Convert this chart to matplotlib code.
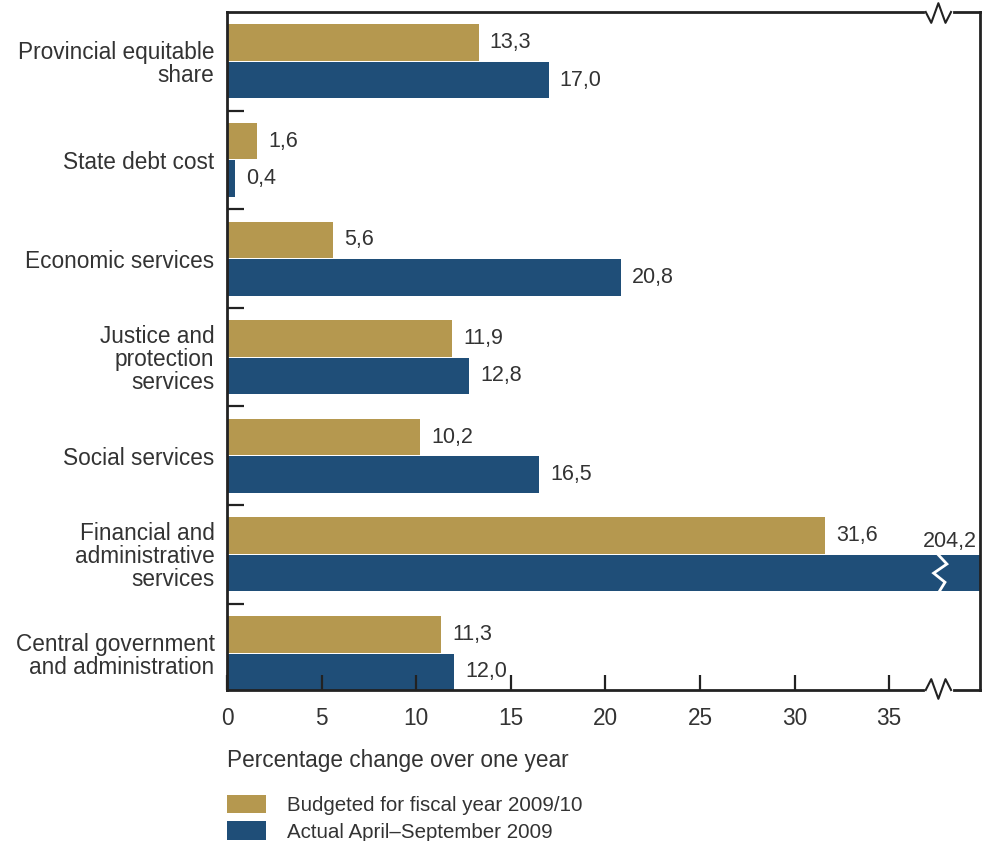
import numpy as np
import matplotlib
matplotlib.use("Agg")
import matplotlib.pyplot as plt

plt.rcParams['font.family'] = ['Liberation Sans', 'DejaVu Sans']

# données
categories = [
    "Provincial equitable\nshare",
    "State debt cost",
    "Economic services",
    "Justice and\nprotection\nservices",
    "Social services",
    "Financial and\nadministrative\nservices",
    "Central government\nand administration",
]
budgeted = [13.3, 1.6, 5.6, 11.9, 10.2, 31.6, 11.3]
actual = [17.0, 0.4, 20.8, 12.8, 16.5, 204.2, 12.0]
legend_labels = ["Budgeted for fiscal year 2009/10", "Actual April\u2013September 2009"]

GOLD = "#B5984F"
BLUE = "#1F4E78"
TXT = "#333333"
XMAX = 39.8
XBREAK = 37.6

fig = plt.figure(figsize=(9.87, 8.41), dpi=100)
ax = fig.add_axes([227/987, 1 - 690/841, (980-227)/987, (690-12)/841])

y = np.arange(len(categories))
h = 0.37
off = 0.19

def fmt(v):
    return f"{v:.1f}".replace(".", ",")

b1 = ax.barh(y - off, budgeted, height=h, color=GOLD, label=legend_labels[0])
b2 = ax.barh(y + off, [min(v, XMAX) for v in actual], height=h, color=BLUE, label=legend_labels[1])

for yi, v in zip(y, budgeted):
    ax.annotate(fmt(v), (v, yi - off), xytext=(8, 0), textcoords="offset points",
                va="center", ha="left", fontsize=15.5, color=TXT)
for yi, v in zip(y, actual):
    if v > XMAX:
        ax.annotate(fmt(v), (XMAX, yi + off - h/2), xytext=(-2, 2), textcoords="offset points",
                    va="bottom", ha="right", fontsize=15.5, color=TXT)
        # zigzag blanc sur la barre coupée
        yy = yi + off + np.array([-0.5, -0.25, 0.0, 0.25, 0.5]) * h
        xx = XBREAK + np.array([0.0, 0.45, -0.25, 0.35, 0.05])
        ax.plot(xx, yy, color="white", lw=2, zorder=5, solid_joinstyle="miter")
    else:
        ax.annotate(fmt(v), (v, yi + off), xytext=(8, 0), textcoords="offset points",
                    va="center", ha="left", fontsize=15.5, color=TXT)

ax.set_xlim(0, XMAX)
ax.set_ylim(len(categories) - 1 + off + h/2, -0.5)

ax.set_xticks(range(0, 40, 5))
ax.set_yticks(y)
ax.set_yticklabels(categories, fontsize=16.3, color=TXT, linespacing=1.0)
ax.set_yticks(np.arange(0.5, len(categories) - 1, 1), minor=True)
ax.tick_params(axis="y", which="major", length=0, pad=9)
ax.tick_params(axis="y", which="minor", direction="in", length=12, width=1.6, color="#222")
ax.tick_params(axis="x", direction="in", length=11, width=1.6, color="#222",
               labelsize=16.3, labelcolor=TXT, pad=12)
ax.set_xlabel("Percentage change over one year", loc="left", fontsize=16.3, color=TXT, labelpad=14)

for s in ["left", "right"]:
    ax.spines[s].set_linewidth(2)
    ax.spines[s].set_color("#222")
ax.spines["top"].set_visible(False)
ax.spines["bottom"].set_visible(False)

# axes haut et bas avec coupure
xb = XBREAK / XMAX
dz = 0.0105
for yb, sgn in [(1.0, 1), (0.0, -1)]:
    ax.plot([0, xb - 1.9*dz], [yb, yb], transform=ax.transAxes, color="#222", lw=2, clip_on=False)
    zx = xb + np.array([-1.6, -0.9, 0.0, 0.9, 1.6]) * dz
    zy = yb + np.array([0, -0.016, 0.013, -0.016, 0]) * sgn
    ax.plot(zx, zy, transform=ax.transAxes, color="#222", lw=1.5, clip_on=False)
    ax.plot([xb + 2.0*dz, 1], [yb, yb], transform=ax.transAxes, color="#222", lw=2, clip_on=False)

fig.legend(handles=[b1, b2], labels=legend_labels, loc="upper left",
           bbox_to_anchor=(227/987, 1 - 795/841), frameon=False, fontsize=14.8,
           handlelength=1.9, handleheight=1.0, handletextpad=1.0, labelspacing=0.3,
           borderpad=0, borderaxespad=0, labelcolor=TXT)

fig.savefig("out.png", dpi=100)
